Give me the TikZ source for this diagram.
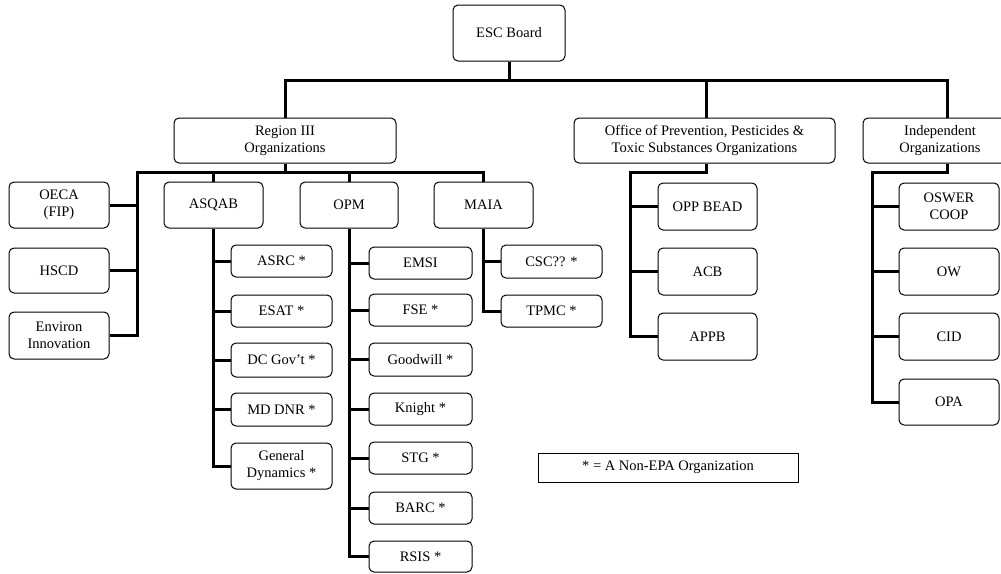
\documentclass[tikz,border=0pt]{standalone}
\usepackage{fontspec}
\setmainfont{Liberation Serif}
\usepackage{tikz}
\begin{document}
\begin{tikzpicture}[
      x=1pt,y=-1pt,
      org/.style={draw,line width=1pt,rounded corners=5pt,fill=white,align=center,
                  inner sep=0pt,minimum width=100pt,minimum height=46pt,
                  font=\fontsize{14.5}{17}\selectfont},
      sub/.style={org,minimum width=101pt,minimum height=32pt},
      link/.style={line width=3pt},
      note/.style={draw,line width=1pt,fill=white,minimum width=260pt,minimum height=29pt,
                   inner sep=0pt,font=\fontsize{14.5}{17}\selectfont}
    ]
    \useasboundingbox (0,0) rectangle (1001,573);
    % top level
    \node[org,minimum width=112pt,minimum height=56pt] (esc) at (509,33) {ESC Board};
    \node[org,minimum width=222pt,minimum height=45pt] (reg) at (285,140.5) {Region III\\Organizations};
    \node[org,minimum width=261pt,minimum height=45pt] (oppts) at (704.5,140.5) {Office of Prevention, Pesticides \&\\Toxic Substances Organizations};
    \node[org,minimum width=154pt,minimum height=45pt] (indep) at (940,140.5) {Independent\\Organizations};
    % region III
    \node[org] (oeca) at (59,205) {OECA\\(FIP)};
    \node[org,minimum height=45pt] (hscd) at (59,270.5) {HSCD};
    \node[org,minimum height=47pt] (environ) at (59,335.5) {Environ\\Innovation};
    \node[org,minimum width=99pt] (asqab) at (213.5,205) {ASQAB};
    \node[org,minimum width=98pt] (opm) at (349,205) {OPM};
    \node[org,minimum width=99pt] (maia) at (483.5,205) {MAIA};
    % ASQAB
    \node[sub] (asrc) at (281.5,261) {ASRC *};
    \node[sub] (esat) at (281.5,311) {ESAT *};
    \node[sub,minimum height=34pt] (dcgov) at (281.5,360) {DC Gov’t *};
    \node[sub,minimum height=33pt] (mddnr) at (281.5,409.5) {MD DNR *};
    \node[sub,minimum height=46pt] (gendyn) at (281.5,466) {General\\Dynamics *};
    % OPM
    \node[sub,minimum width=103pt] (emsi) at (420.5,263) {EMSI};
    \node[sub,minimum width=103pt] (fse) at (420.5,310) {FSE *};
    \node[sub,minimum width=103pt,minimum height=33pt] (goodwill) at (420.5,359.5) {Goodwill *};
    \node[sub,minimum width=103pt] (knight) at (420.5,409) {Knight *};
    \node[sub,minimum width=103pt] (stg) at (420.5,458) {STG *};
    \node[sub,minimum width=103pt] (barc) at (420.5,508) {BARC *};
    \node[sub,minimum width=103pt,minimum height=31pt] (rsis) at (420.5,556.5) {RSIS *};
    % MAIA
    \node[sub,minimum height=33pt] (csc) at (551.5,261.5) {CSC?? *};
    \node[sub] (tpmc) at (551.5,311) {TPMC *};
    % OPPTS
    \node[org,minimum width=99pt,minimum height=47pt] (oppbead) at (707.5,206.5) {OPP BEAD};
    \node[org,minimum width=99pt,minimum height=47pt] (acb) at (707.5,271.5) {ACB};
    \node[org,minimum width=99pt,minimum height=47pt] (appb) at (707.5,336.5) {APPB};
    % independent
    \node[org,minimum height=47pt] (oswer) at (949,206.5) {OSWER\\COOP};
    \node[org,minimum height=47pt] (ow) at (949,271.5) {OW};
    \node[org,minimum height=47pt] (cid) at (949,336.5) {CID};
    \node[org] (opa) at (949,402) {OPA};
    \node[note] (legend) at (668,467.5) {* = A Non-EPA Organization};
    % buses
    \coordinate (bus) at (0,80);
    \coordinate (rbus) at (137,172);
    \coordinate (obus) at (630,172);
    \coordinate (ibus) at (872,172);
    \draw[link] (esc.south) -- (esc.south |- bus);
    \draw[link] (reg.north) |- ([xshift=7]bus -| indep.north) -- ([xshift=7]indep.north);
    \draw[link] ([xshift=2]oppts.north) -- ([xshift=2]oppts.north |- bus);
    \draw[link] (reg.south) -- (reg.south |- rbus);
    \draw[link] (maia.north) |- (rbus) |- (environ.east);
    \draw[link] (asqab.north) -- (asqab.north |- rbus);
    \draw[link] (opm.north) -- (opm.north |- rbus);
    \draw[link] (oeca.east) -- (oeca.east -| rbus);
    \draw[link] (hscd.east) -- (hscd.east -| rbus);
    \draw[link] (asqab.south) |- (gendyn.west);
    \foreach \n in {asrc,esat,dcgov,mddnr}
      \draw[link] (\n.west) -- (\n.west -| asqab.south);
    \draw[link] (opm.south) |- (rsis.west);
    \foreach \n in {emsi,fse,goodwill,knight,stg,barc}
      \draw[link] (\n.west) -- (\n.west -| opm.south);
    \draw[link] (maia.south) |- (tpmc.west);
    \draw[link] (csc.west) -- (csc.west -| maia.south);
    \draw[link] ([xshift=2]oppts.south) |- (obus) |- (appb.west);
    \draw[link] (oppbead.west) -- (oppbead.west -| obus);
    \draw[link] (acb.west) -- (acb.west -| obus);
    \draw[link] ([xshift=7]indep.south) |- (ibus) |- (opa.west);
    \foreach \n in {oswer,ow,cid}
      \draw[link] (\n.west) -- (\n.west -| ibus);
  \end{tikzpicture}
\end{document}
